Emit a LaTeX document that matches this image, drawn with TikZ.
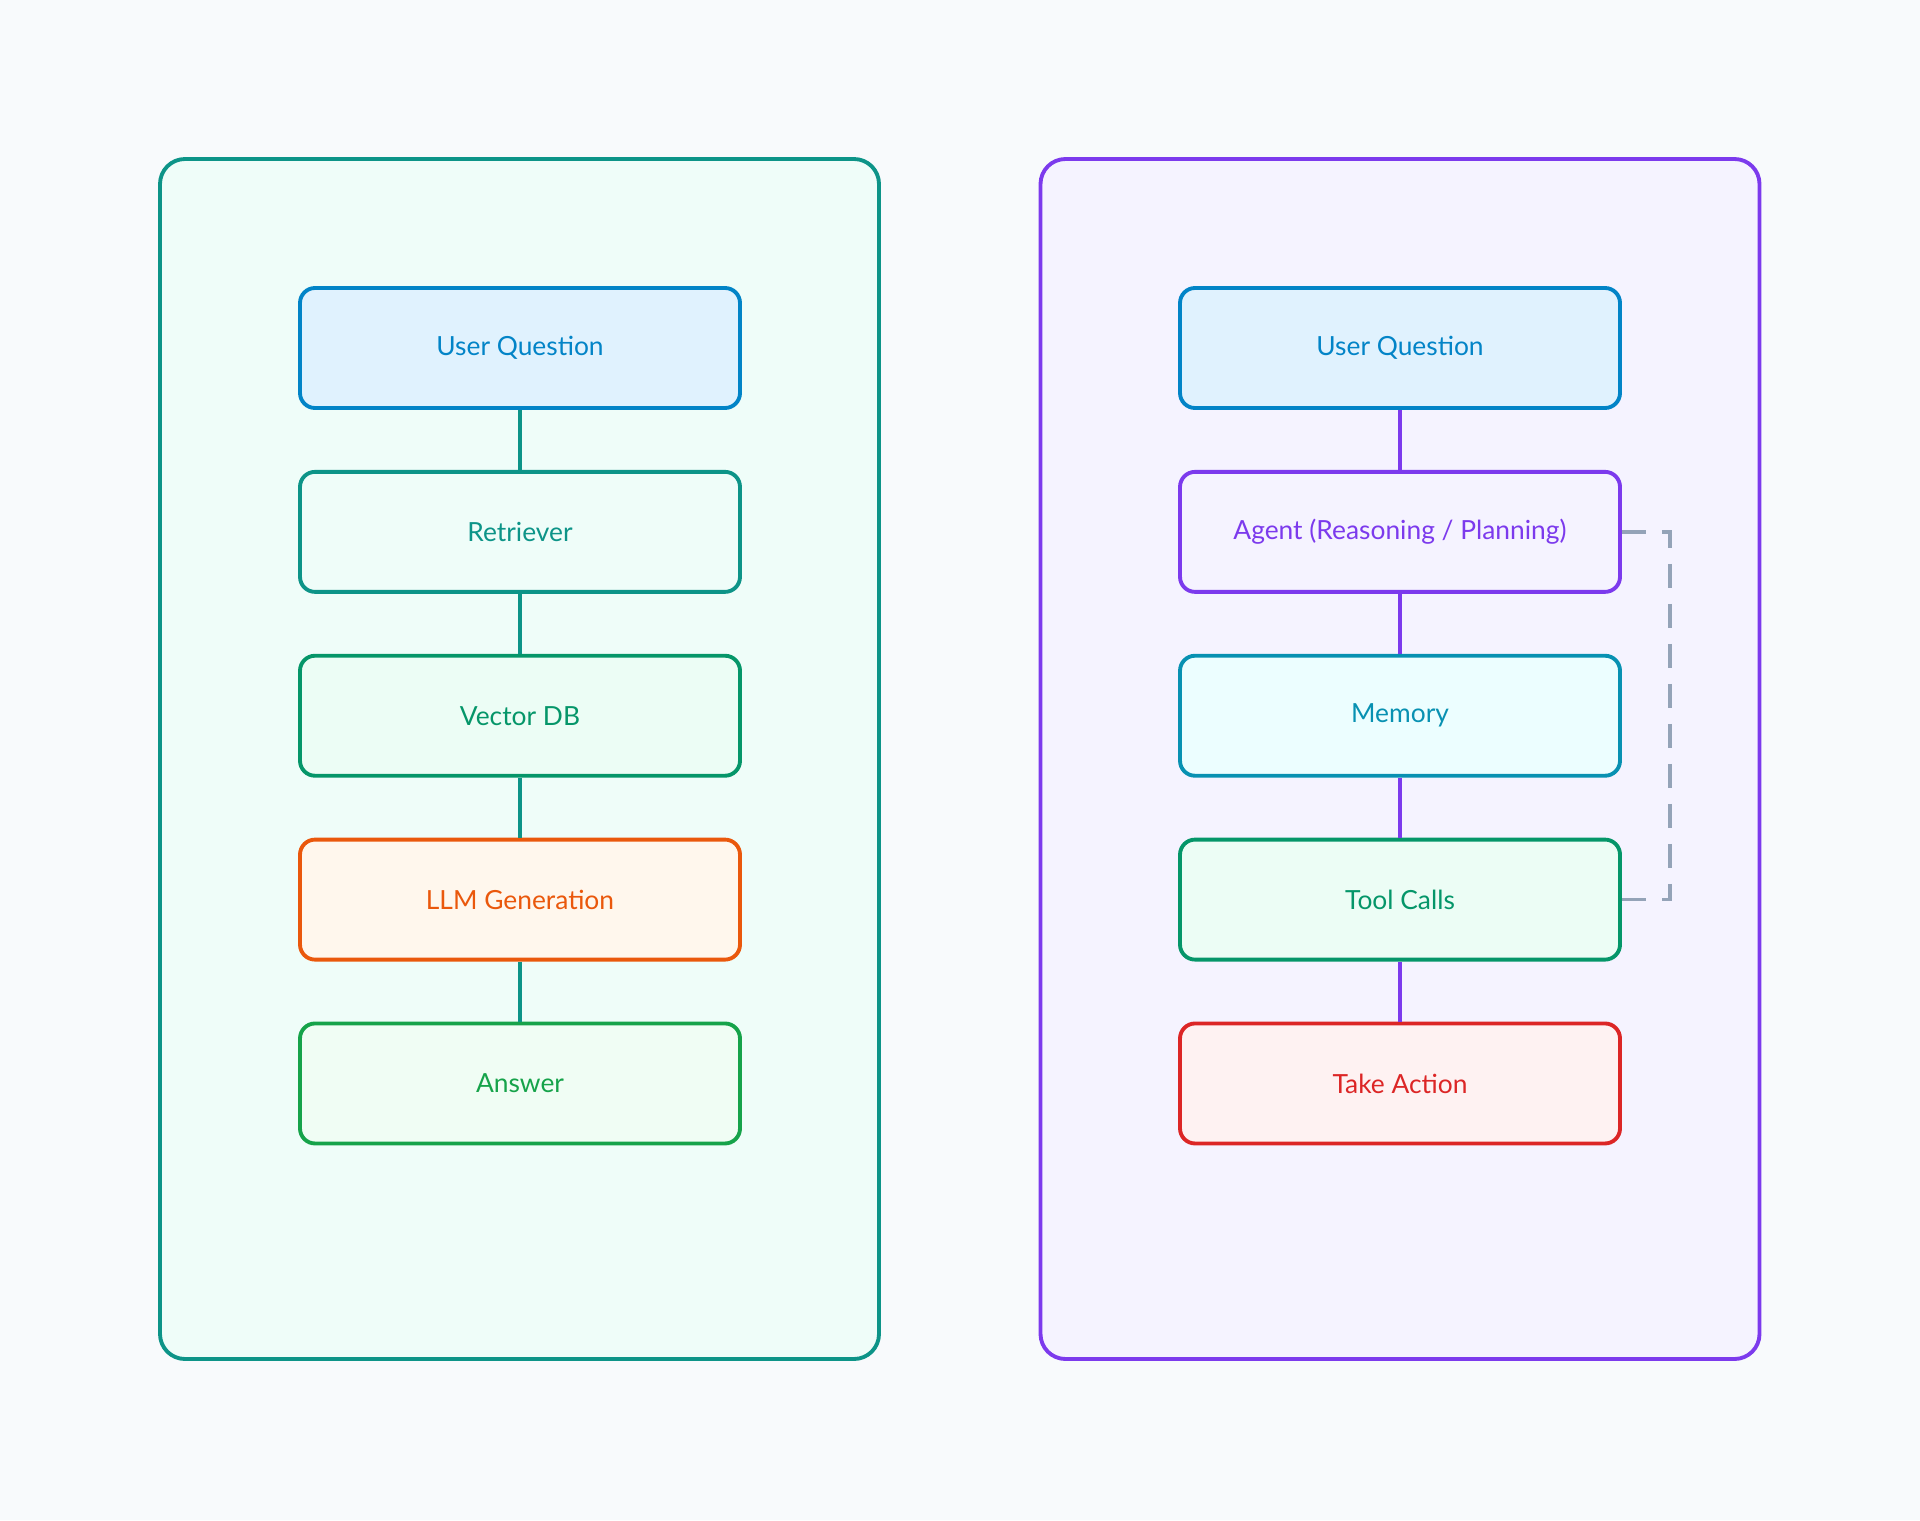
\documentclass[tikz,border=0pt]{standalone}
\usepackage{fontspec}
\setmainfont{Lato}
\usetikzlibrary{positioning}

\definecolor{pagebg}{HTML}{F8FAFC}
\definecolor{ragline}{HTML}{0D9488}
\definecolor{ragfill}{HTML}{EFFDF9}
\definecolor{agtline}{HTML}{7C3AED}
\definecolor{agtfill}{HTML}{F5F3FF}
\definecolor{qline}{HTML}{0284C7}
\definecolor{qfill}{HTML}{E0F2FE}
\definecolor{dbline}{HTML}{059669}
\definecolor{dbfill}{HTML}{ECFDF5}
\definecolor{llmline}{HTML}{EA580C}
\definecolor{llmfill}{HTML}{FFF7ED}
\definecolor{ansline}{HTML}{16A34A}
\definecolor{ansfill}{HTML}{F0FDF4}
\definecolor{memline}{HTML}{0891B2}
\definecolor{memfill}{HTML}{ECFEFF}
\definecolor{actline}{HTML}{DC2626}
\definecolor{actfill}{HTML}{FEF2F2}
\definecolor{loopline}{HTML}{94A3B8}

\begin{document}
\begin{tikzpicture}[
      node distance=6mm,
      panel/.style={draw, line width=1.1pt, rounded corners=2.5mm, minimum width=71.9mm, minimum height=120mm},
      stage/.style={draw, line width=1.1pt, rounded corners=1.5mm, minimum width=44mm, minimum height=12mm, font=\fontsize{7.5}{9}\selectfont},
      link/.style={line width=1pt}]

    \useasboundingbox[fill=pagebg] (0,0) rectangle (19.2,15.2);

    % the two panels
    \node[panel, draw=ragline, fill=ragfill] (ragpanel) at (5.195,7.61) {};
    \node[panel, draw=agtline, fill=agtfill] (agtpanel) at (14.0,7.61) {};

    % left column
    \node[stage, draw=qline, fill=qfill, text=qline] (ragq) at (5.2,11.72) {User Question};
    \node[stage, draw=ragline, fill=ragfill, text=ragline, below=of ragq] (retr) {Retriever};
    \node[stage, draw=dbline, fill=dbfill, text=dbline, below=of retr] (vdb) {Vector DB};
    \node[stage, draw=llmline, fill=llmfill, text=llmline, below=of vdb] (llm) {LLM Generation};
    \node[stage, draw=ansline, fill=ansfill, text=ansline, below=of llm] (ans) {Answer};

    \draw[link, ragline] (ragq) -- (retr);
    \draw[link, ragline] (retr) -- (vdb);
    \draw[link, ragline] (vdb) -- (llm);
    \draw[link, ragline] (llm) -- (ans);

    % right column
    \node[stage, draw=qline, fill=qfill, text=qline] (agtq) at (14.0,11.72) {User Question};
    \node[stage, draw=agtline, fill=agtfill, text=agtline, below=of agtq] (agent) {Agent (Reasoning / Planning)};
    \node[stage, draw=memline, fill=memfill, text=memline, below=of agent] (mem) {Memory};
    \node[stage, draw=dbline, fill=dbfill, text=dbline, below=of mem] (tools) {Tool Calls};
    \node[stage, draw=actline, fill=actfill, text=actline, below=of tools] (act) {Take Action};

    \draw[link, agtline] (agtq) -- (agent);
    \draw[link, agtline] (agent) -- (mem);
    \draw[link, agtline] (mem) -- (tools);
    \draw[link, agtline] (tools) -- (act);

    \draw[link, loopline, dash pattern=on 2.4mm off 1.6mm] (agent.east) -- ++(0.48,0) |- (tools.east);
  \end{tikzpicture}
\end{document}
